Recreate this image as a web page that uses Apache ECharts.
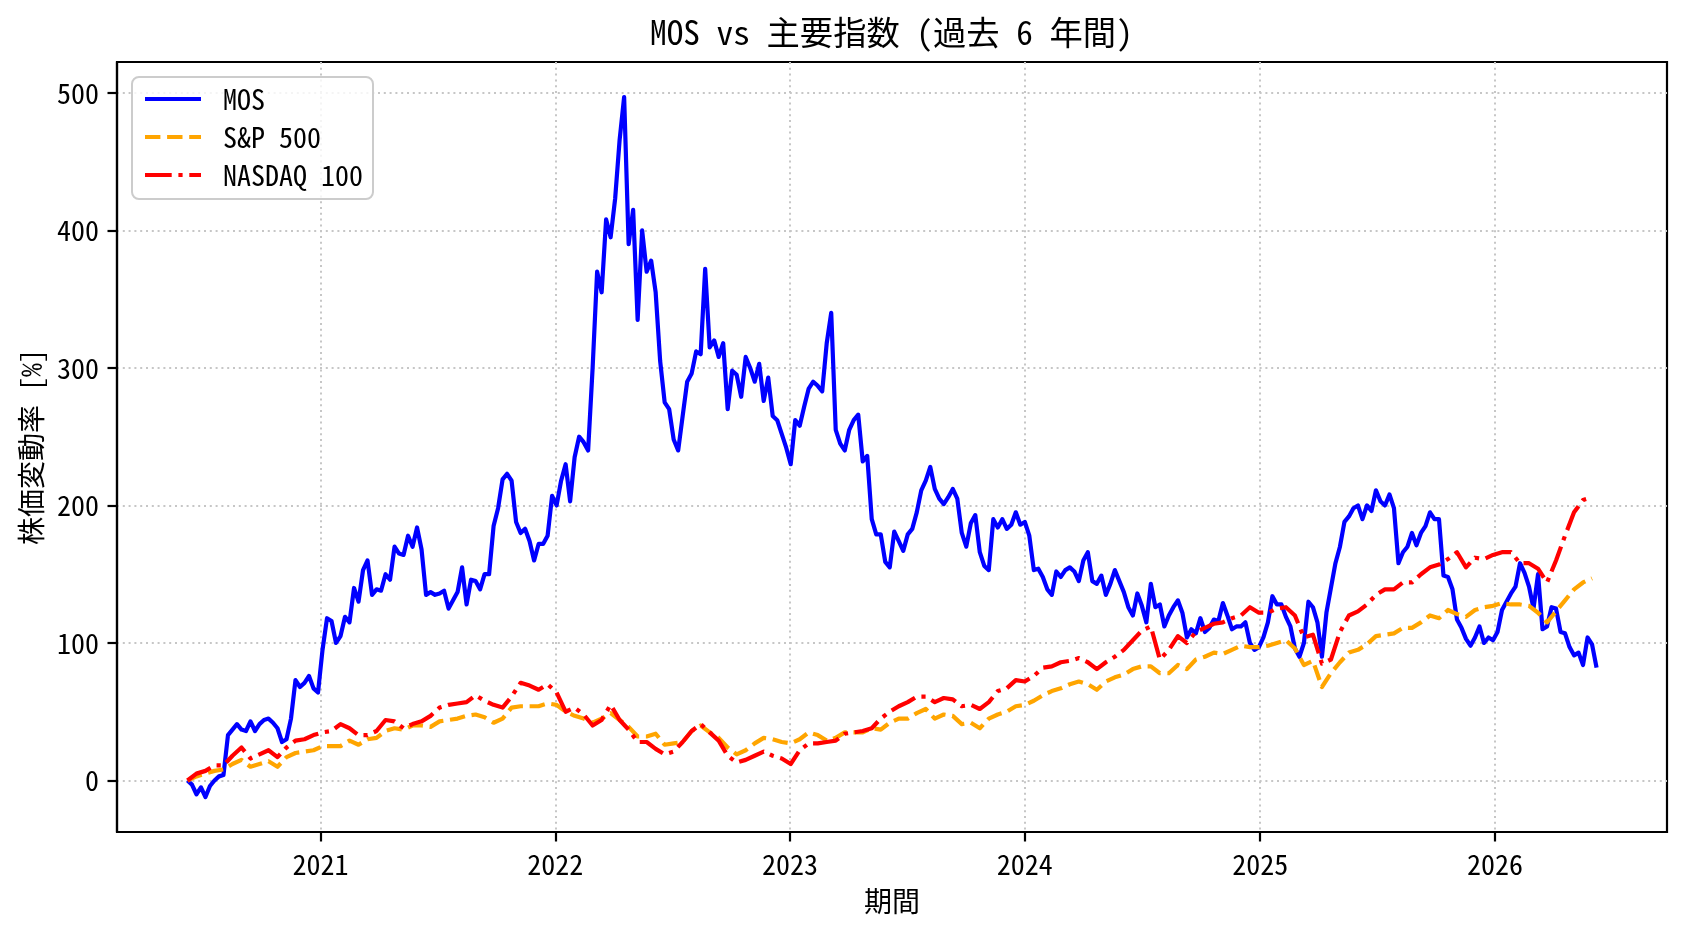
<!DOCTYPE html>
<html>
<head>
<meta charset="utf-8">
<title>MOS vs 主要指数</title>
<script src="https://cdn.jsdelivr.net/npm/echarts@6/dist/echarts.min.js"></script>
<style>
    html, body { margin: 0; padding: 0; background: #fff; }
    .echart-line-box { width: 1688px; height: 932px; }
</style>
</head>
<body>
<div class="echart-line-box" id="echartLineBox"></div>
<script>
    // 起点 2020-06-08、MOS は週次、指数は隔週の株価変動率 [%]
    const startDate = [2020, 5, 8];
    const mosStepDays = 7;
    const indexStepDays = 14;

    const mosValues = [
        0, -3, -10, -5, -12, -4, 0, 3, 4, 33,
        37, 41, 37, 36, 43, 36, 41, 44, 45, 42,
        38, 28, 30, 45, 73, 68, 71, 76, 67, 64,
        95, 118, 116, 100, 105, 119, 115, 140, 130, 153,
        160, 135, 139, 138, 150, 146, 170, 165, 164, 178,
        170, 184, 168, 135, 137, 135, 136, 138, 125, 131,
        137, 155, 128, 146, 145, 139, 150, 150, 185, 198,
        219, 223, 218, 188, 180, 183, 174, 160, 172, 172,
        178, 207, 200, 218, 230, 203, 235, 250, 246, 240,
        300, 370, 355, 408, 395, 423, 466, 497, 390, 415,
        335, 400, 370, 378, 355, 305, 275, 270, 248, 240,
        265, 290, 296, 312, 310, 372, 315, 320, 308, 318,
        270, 298, 295, 279, 308, 300, 290, 303, 276, 293,
        265, 262, 252, 242, 230, 262, 258, 272, 285, 290,
        287, 283, 318, 340, 255, 245, 240, 255, 262, 266,
        232, 236, 190, 179, 179, 159, 155, 181, 174, 167,
        179, 183, 195, 211, 218, 228, 212, 205, 201, 206,
        212, 205, 180, 170, 187, 193, 166, 156, 153, 190,
        184, 190, 183, 186, 195, 186, 188, 178, 153, 154,
        148, 139, 135, 152, 148, 153, 155, 152, 145, 160,
        166, 145, 143, 149, 135, 143, 153, 145, 137, 126,
        120, 136, 127, 115, 143, 126, 128, 112, 120, 126,
        131, 122, 104, 110, 107, 118, 108, 111, 117, 116,
        129, 120, 110, 112, 112, 115, 100, 95, 97, 104,
        115, 134, 128, 128, 119, 112, 96, 90, 100, 130,
        126, 115, 90, 122, 140, 158, 170, 188, 192, 198,
        200, 190, 200, 196, 211, 203, 200, 208, 198, 158,
        166, 170, 180, 171, 180, 185, 195, 190, 190, 149,
        148, 139, 117, 111, 103, 98, 104, 112, 100, 104,
        102, 108, 124, 130, 136, 141, 158, 151, 141, 125,
        150, 110, 112, 126, 125, 108, 107, 97, 91, 93,
        84, 104, 99, 82
    ];

    const sp500Values = [
        0, 3, 5, 7, 8, 12, 15, 10, 12, 14,
        10, 17, 20, 21, 22, 25, 25, 25, 29, 26,
        30, 31, 36, 38, 37, 40, 40, 39, 43, 44,
        45, 47, 48, 46, 42, 45, 53, 54, 54, 54,
        56, 55, 50, 47, 45, 42, 45, 49, 44, 39,
        32, 32, 34, 26, 27, 28, 36, 40, 35, 31,
        24, 19, 22, 27, 31, 30, 28, 27, 30, 35,
        33, 29, 31, 35, 35, 35, 38, 37, 42, 45,
        45, 49, 52, 45, 48, 47, 41, 42, 38, 45,
        48, 50, 54, 55, 58, 62, 65, 67, 70, 72,
        70, 66, 72, 75, 77, 81, 83, 83, 78, 78,
        84, 81, 88, 90, 93, 92, 95, 98, 97, 97,
        98, 100, 102, 96, 84, 87, 68, 78, 86, 93,
        95, 99, 105, 106, 107, 111, 111, 115, 120, 118,
        124, 121, 119, 124, 126, 127, 129, 128, 128, 127,
        122, 115, 123, 131, 139, 144, 147
    ];

    const nasdaq100Values = [
        0, 5, 7, 11, 11, 18, 24, 16, 19, 22,
        17, 24, 29, 30, 33, 35, 36, 41, 38, 33,
        33, 36, 44, 43, 38, 41, 43, 47, 53, 55,
        56, 57, 62, 58, 55, 53, 61, 71, 69, 66,
        70, 64, 50, 53, 48, 40, 44, 55, 44, 37,
        28, 28, 23, 19, 21, 28, 36, 41, 35, 29,
        18, 13, 15, 18, 21, 18, 16, 12, 22, 27,
        27, 28, 29, 34, 35, 36, 38, 45, 50, 54,
        57, 61, 61, 57, 60, 59, 54, 55, 52, 57,
        65, 67, 73, 72, 76, 82, 83, 86, 87, 89,
        86, 81, 86, 90, 95, 102, 109, 112, 88, 95,
        105, 100, 108, 111, 114, 115, 118, 120, 126, 122,
        122, 125, 126, 120, 104, 106, 85, 88, 108, 120,
        123, 128, 135, 139, 139, 144, 144, 150, 155, 157,
        161, 166, 155, 162, 161, 164, 166, 166, 158, 158,
        154, 144, 160, 178, 195, 204, 206
    ];

    const yearTicks = [2021, 2022, 2023, 2024, 2025, 2026];
    const valueTicks = [0, 100, 200, 300, 400, 500];

    const DAY = 86400000;
    const fontFamily = "'Noto Sans Mono CJK JP', 'Noto Sans CJK JP', sans-serif";

    function toSeriesData(values, stepDays) {
        let t0 = Date.UTC(startDate[0], startDate[1], startDate[2]);
        return values.map((v, i) => [t0 + i * stepDays * DAY, v]);
    }

    function initChart() {
        let mosData = toSeriesData(mosValues, mosStepDays),
            spData = toSeriesData(sp500Values, indexStepDays),
            ndxData = toSeriesData(nasdaq100Values, indexStepDays);

        // matplotlib 既定の 5% マージン
        let tFirst = mosData[0][0],
            tLast = mosData[mosData.length - 1][0],
            tPad = (tLast - tFirst) * 0.05;
        let all = mosValues.concat(sp500Values, nasdaq100Values),
            vMin = Math.min.apply(null, all),
            vMax = Math.max.apply(null, all),
            vPad = (vMax - vMin) * 0.05;

        // 時刻はミリ秒の数値軸で持ち、年初だけに目盛りを置く
        let yearTickTimes = yearTicks.map(y => Date.UTC(y, 0, 1));
        let gridLine = { show: true, lineStyle: { color: '#c6c6c6', width: 2, type: [2, 3.8] } };
        let blackLine = { color: '#000', width: 2.2 };

        let option = {
            animation: false,
            backgroundColor: '#fff',
            title: {
                text: 'MOS vs 主要指数 (過去 6 年間)',
                left: 650,
                top: 16,
                padding: 0,
                textStyle: { fontFamily: fontFamily, fontSize: 33.3, fontWeight: 'normal', color: '#000' }
            },
            legend: {
                orient: 'vertical',
                left: 132,
                top: 77,
                itemWidth: 56,
                itemHeight: 14,
                itemGap: 8,
                padding: [7, 10, 9, 11],
                backgroundColor: 'rgba(255,255,255,0.8)',
                borderColor: '#cccccc',
                borderWidth: 2,
                borderRadius: 7,
                itemStyle: { color: 'rgba(0,0,0,0)', borderWidth: 0 },
                lineStyle: { width: 4 },
                textStyle: { fontFamily: fontFamily, fontSize: 28, color: '#000', lineHeight: 30, padding: [0, 0, 0, 17] },
                data: ['MOS', 'S&P 500', 'NASDAQ 100']
            },
            grid: {
                left: 117,
                top: 62,
                width: 1550,
                height: 770,
                show: true,
                borderColor: '#000',
                borderWidth: 2.2,
                containLabel: false
            },
            xAxis: {
                type: 'value',
                min: tFirst - tPad,
                max: tLast + tPad,
                name: '期間',
                nameLocation: 'middle',
                nameGap: 55,
                nameTextStyle: { fontFamily: fontFamily, fontSize: 28, color: '#000' },
                axisLine: { show: true, onZero: false, lineStyle: blackLine },
                axisTick: { show: true, length: 9.5, lineStyle: blackLine, customValues: yearTickTimes },
                axisLabel: {
                    customValues: yearTickTimes,
                    formatter: v => String(new Date(v).getUTCFullYear()),
                    fontFamily: fontFamily, fontSize: 28, color: '#000', margin: 18
                },
                splitLine: gridLine
            },
            yAxis: {
                type: 'value',
                min: vMin - vPad,
                max: vMax + vPad,
                name: '株価変動率 [%]',
                nameLocation: 'middle',
                nameGap: 72,
                nameTextStyle: { fontFamily: fontFamily, fontSize: 28, color: '#000' },
                axisLine: { show: true, onZero: false, lineStyle: blackLine },
                axisTick: { show: true, length: 9.5, lineStyle: blackLine, customValues: valueTicks },
                axisLabel: { customValues: valueTicks, fontFamily: fontFamily, fontSize: 28, color: '#000', margin: 18 },
                splitLine: gridLine
            },
            series: [
                {
                    name: 'MOS',
                    type: 'line',
                    data: mosData,
                    symbol: 'none',
                    lineStyle: { color: '#0000ff', width: 4.2, join: 'round' },
                    itemStyle: { color: '#0000ff' }
                },
                {
                    name: 'S&P 500',
                    type: 'line',
                    data: spData,
                    symbol: 'none',
                    lineStyle: { color: '#ffa500', width: 4.2, type: [15.4, 6.7], join: 'round' },
                    itemStyle: { color: '#ffa500' }
                },
                {
                    name: 'NASDAQ 100',
                    type: 'line',
                    data: ndxData,
                    symbol: 'none',
                    lineStyle: { color: '#ff0000', width: 4.2, type: [26.7, 6.7, 4.2, 6.7], join: 'round' },
                    itemStyle: { color: '#ff0000' }
                }
            ]
        };

        let echartBox = echarts.init(document.getElementById('echartLineBox'));
        echartBox.setOption(option);
    }

    initChart();
</script>
</body>
</html>
